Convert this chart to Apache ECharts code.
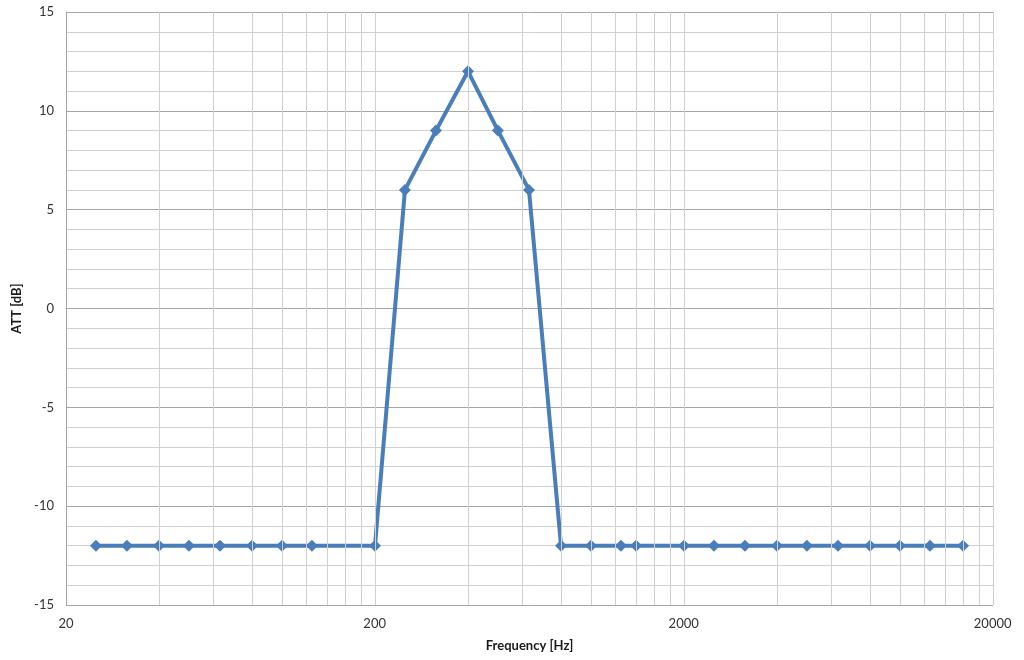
<!DOCTYPE html>
<html>
<head>
<meta charset="utf-8">
<script src="https://cdn.jsdelivr.net/npm/echarts@6/dist/echarts.min.js"></script>
<style>html,body{margin:0;padding:0;background:#fff;}#c{width:1024px;height:660px;}</style>
</head>
<body>
<div id="c"></div>
<script>
// Data
const freqs = [25, 31.5, 40, 50, 63, 80, 100, 125, 200, 250, 315, 400, 500, 630, 800, 1000, 1250, 1400, 2000, 2500, 3150, 4000, 5000, 6300, 8000, 10000, 12500, 16000];
const att = [-12, -12, -12, -12, -12, -12, -12, -12, -12, 6, 9, 12, 9, 6, -12, -12, -12, -12, -12, -12, -12, -12, -12, -12, -12, -12, -12, -12];
// Axis ticks
const xMajorTicks = [20, 200, 2000, 20000];
const xMinorTicks = [40, 60, 80, 100, 120, 140, 160, 180, 400, 600, 800, 1000, 1200, 1400, 1600, 1800, 4000, 6000, 8000, 10000, 12000, 14000, 16000, 18000];
const yMin = -15, yMax = 15, yStep = 5;

const chart = echarts.init(document.getElementById('c'), null, {renderer: 'canvas'});
const txt = '#333333';
const font = 'Lato, "Open Sans", sans-serif';
function nearestMajor(v) {
  let best = xMajorTicks[0], bd = Infinity;
  xMajorTicks.forEach(t => { const d = Math.abs(Math.log10(t) - Math.log10(v)); if (d < bd) { bd = d; best = t; } });
  return String(best);
}
chart.setOption({
  animation: false,
  grid: {left: 66, right: 31, top: 12, bottom: 55, containLabel: false},
  xAxis: {
    type: 'log', logBase: 10,
    min: xMajorTicks[0], max: xMajorTicks[xMajorTicks.length - 1],
    interval: 1,
    name: 'Frequency [Hz]', nameLocation: 'middle', nameGap: 34,
    nameTextStyle: {fontWeight: 'bold', fontSize: 13, color: '#1a1a1a', fontFamily: font},
    axisLine: {show: true, lineStyle: {color: '#a6a6a6', width: 1}},
    axisTick: {show: false},
    axisLabel: {color: txt, fontSize: 13, fontFamily: font, margin: 12, formatter: nearestMajor},
    splitLine: {show: false}
  },
  yAxis: {
    type: 'value', min: yMin, max: yMax, interval: yStep,
    name: 'ATT [dB]', nameLocation: 'middle', nameGap: 35, nameRotate: 90,
    nameTextStyle: {fontWeight: 'bold', fontSize: 13, color: '#1a1a1a', fontFamily: font},
    axisLine: {show: true, lineStyle: {color: '#a6a6a6', width: 1}},
    axisTick: {show: false},
    axisLabel: {color: txt, fontSize: 13, fontFamily: font, margin: 12},
    splitLine: {show: true, lineStyle: {color: '#a6a6a6', width: 1}},
    minorTick: {show: false, splitNumber: 5},
    minorSplitLine: {show: true, lineStyle: {color: '#d0d0d0', width: 1}}
  },
  series: [
    {
      type: 'line', data: [], z: 1, silent: true,
      markLine: {
        silent: true, symbol: 'none', animation: false,
        label: {show: false},
        lineStyle: {color: '#d0d0d0', type: 'solid', width: 1},
        emphasis: {disabled: true},
        data: xMinorTicks.concat(xMajorTicks.slice(1)).map(v => ({xAxis: v}))
      }
    },
    {
      type: 'line', z: 3,
      data: freqs.map((f, i) => [f, att[i]]),
      symbol: 'diamond', symbolSize: [12, 12],
      lineStyle: {color: '#4a7ebb', width: 4},
      itemStyle: {color: '#4a7ebb'}
    }
  ]
});
</script>
</body>
</html>
